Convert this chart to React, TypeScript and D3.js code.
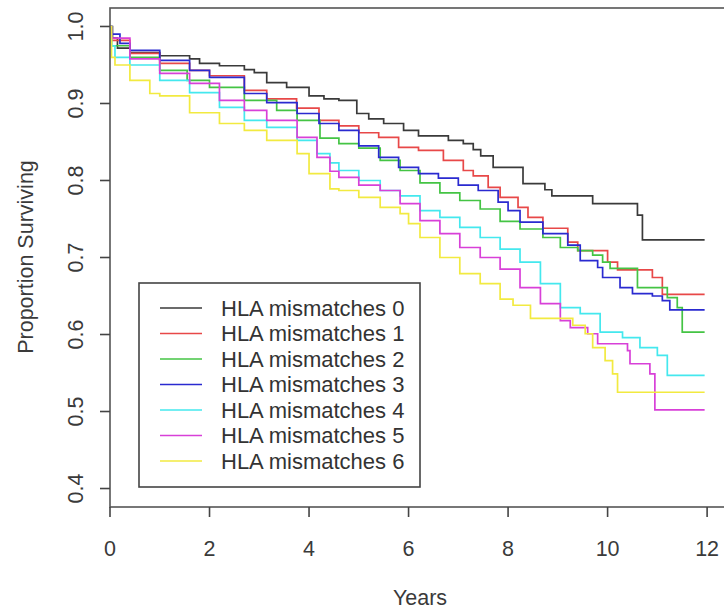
import React from 'react';
import * as d3 from 'd3';

// Kaplan-Meier curves: [years, proportion surviving]
const mismatch0 = [[0,1],[0.05,0.985],[0.15,0.972],[0.4,0.966],[1.0,0.962],[1.6,0.958],[1.8,0.952],[2.2,0.949],[2.7,0.944],[2.9,0.94],[3.15,0.927],[3.55,0.921],[4.0,0.91],[4.3,0.906],[4.6,0.904],[4.96,0.887],[5.2,0.88],[5.5,0.874],[5.9,0.865],[6.2,0.858],[6.8,0.852],[7.1,0.848],[7.3,0.84],[7.45,0.832],[7.7,0.817],[8.3,0.796],[8.74,0.788],[8.88,0.78],[9.7,0.77],[10.6,0.755],[10.7,0.723],[11.95,0.723]];
const mismatch1 = [[0,1],[0.03,0.982],[0.4,0.965],[1.0,0.952],[1.6,0.943],[2.0,0.936],[2.7,0.917],[3.15,0.906],[3.75,0.894],[4.2,0.878],[4.6,0.871],[5.0,0.862],[5.4,0.856],[5.8,0.843],[6.2,0.839],[6.7,0.826],[7.1,0.813],[7.3,0.806],[7.6,0.791],[7.84,0.778],[8.2,0.765],[8.4,0.752],[8.7,0.738],[9.2,0.72],[9.4,0.709],[10.0,0.694],[10.2,0.684],[10.9,0.674],[11.1,0.652],[11.95,0.652]];
const mismatch2 = [[0,1],[0.03,0.975],[0.4,0.96],[1.0,0.943],[1.55,0.93],[2.0,0.921],[2.7,0.904],[3.35,0.891],[3.76,0.878],[4.22,0.855],[4.6,0.848],[5.0,0.842],[5.43,0.826],[5.83,0.813],[6.23,0.797],[6.63,0.784],[7.03,0.774],[7.44,0.763],[7.84,0.747],[8.24,0.737],[8.7,0.726],[9.05,0.713],[9.4,0.709],[9.7,0.703],[9.9,0.694],[10.05,0.686],[10.6,0.661],[11.2,0.648],[11.4,0.635],[11.5,0.603],[11.95,0.603]];
const mismatch3 = [[0,1],[0.03,0.99],[0.2,0.978],[0.4,0.969],[1.0,0.956],[1.6,0.943],[2.0,0.934],[2.7,0.913],[3.15,0.901],[3.76,0.887],[4.2,0.874],[4.6,0.865],[5.0,0.845],[5.4,0.83],[5.8,0.817],[6.2,0.809],[6.6,0.803],[7.0,0.794],[7.4,0.787],[7.8,0.772],[8.0,0.761],[8.24,0.746],[8.7,0.731],[9.2,0.716],[9.45,0.696],[9.8,0.687],[9.9,0.674],[10.25,0.661],[10.5,0.653],[10.9,0.65],[11.1,0.644],[11.25,0.632],[11.95,0.632]];
const mismatch4 = [[0,1],[0.03,0.975],[0.1,0.96],[0.4,0.95],[1.0,0.93],[1.6,0.914],[2.2,0.895],[2.7,0.878],[3.15,0.869],[3.76,0.852],[4.16,0.835],[4.42,0.823],[4.6,0.813],[5.0,0.8],[5.43,0.787],[5.83,0.78],[6.23,0.761],[6.63,0.752],[7.03,0.739],[7.44,0.726],[7.84,0.711],[8.24,0.694],[8.65,0.666],[9.05,0.635],[9.45,0.627],[9.85,0.603],[10.3,0.596],[10.65,0.583],[11.0,0.573],[11.2,0.547],[11.95,0.547]];
const mismatch5 = [[0,1],[0.03,0.985],[0.4,0.958],[1.0,0.939],[1.6,0.926],[2.2,0.904],[2.7,0.891],[3.15,0.878],[3.76,0.856],[4.16,0.83],[4.42,0.812],[4.6,0.804],[5.0,0.794],[5.43,0.787],[5.83,0.77],[6.23,0.748],[6.63,0.731],[7.03,0.713],[7.44,0.7],[7.84,0.685],[8.24,0.661],[8.65,0.64],[9.05,0.618],[9.25,0.609],[9.6,0.601],[9.8,0.588],[10.4,0.579],[10.45,0.562],[10.85,0.549],[10.95,0.502],[11.95,0.502]];
const mismatch6 = [[0,1],[0.03,0.96],[0.1,0.95],[0.4,0.93],[0.8,0.913],[1.0,0.91],[1.6,0.888],[2.2,0.874],[2.7,0.865],[3.15,0.852],[3.76,0.835],[4.0,0.809],[4.42,0.789],[4.6,0.787],[5.0,0.778],[5.43,0.765],[5.83,0.757],[6.0,0.744],[6.23,0.726],[6.63,0.7],[7.03,0.679],[7.44,0.666],[7.84,0.646],[8.1,0.638],[8.45,0.621],[9.3,0.612],[9.55,0.601],[9.7,0.583],[9.95,0.566],[10.1,0.549],[10.2,0.525],[11.95,0.525]];

const groups = ['HLA mismatches 0', 'HLA mismatches 1', 'HLA mismatches 2', 'HLA mismatches 3', 'HLA mismatches 4', 'HLA mismatches 5', 'HLA mismatches 6'];
const curves = [mismatch0, mismatch1, mismatch2, mismatch3, mismatch4, mismatch5, mismatch6];
const colors = ['#3a3a3a', '#e84848', '#44c444', '#2a2ad0', '#44e8ee', '#d840d8', '#f2ea40'];
const xTicks = [0, 2, 4, 6, 8, 10, 12];
const yTicks = [0.4, 0.5, 0.6, 0.7, 0.8, 0.9, 1.0];

const font = '"Liberation Sans", Arial, sans-serif';

const App = () => {
  const left = 110, top = 8, bottom = 507;

  // R style: y padded 4%, x starts at 0 and extends 4% on the right
  const x = d3.scaleLinear().domain([0, 12.48]).range([left, 731]);
  const y = d3.scaleLinear().domain([0.376, 1.024]).range([bottom, top]);

  const line = d3.line<number[]>()
    .x(d => x(d[0]))
    .y(d => y(d[1]))
    .curve(d3.curveStepAfter);

  const legendX = 139, legendY = 283;

  return (
    <svg width={724} height={610} style={{ position: 'absolute', left: 0, top: 0, background: '#fff' }} fontFamily={font}>
      {/* curves */}
      <g fill="none" strokeWidth={1.7}>
        {curves.map((c, i) => (
          <path key={i} d={line(c) || ''} stroke={colors[i]} />
        ))}
      </g>

      {/* frame */}
      <rect x={left} y={top} width={724} height={bottom - top} fill="none" stroke="#555" strokeWidth={1.6} />

      {/* y axis */}
      <g fill="#3a3a3a" fontSize={21.5}>
        {yTicks.map(t => (
          <g key={t}>
            <line x1={left - 10} x2={left} y1={y(t)} y2={y(t)} stroke="#444" strokeWidth={1.6} />
            <text transform={`translate(75,${y(t)}) rotate(-90)`} textAnchor="middle" dy="0.35em">{t.toFixed(1)}</text>
          </g>
        ))}
        <text transform={`translate(25,257) rotate(-90)`} textAnchor="middle" dy="0.35em">Proportion Surviving</text>
      </g>

      {/* x axis */}
      <g fill="#3a3a3a" fontSize={21.5}>
        {xTicks.map(t => (
          <g key={t}>
            <line x1={x(t)} x2={x(t)} y1={bottom} y2={bottom + 10} stroke="#444" strokeWidth={1.6} />
            <text x={x(t)} y={556} textAnchor="middle">{t}</text>
          </g>
        ))}
        <text x={420} y={605} textAnchor="middle">Years</text>
      </g>

      {/* legend */}
      <rect x={legendX} y={legendY} width={281} height={204} fill="#fff" stroke="#444" strokeWidth={1.6} />
      {groups.map((g, i) => (
        <g key={g} transform={`translate(0,${308 + i * 25.5})`}>
          <line x1={160} x2={202} stroke={colors[i]} strokeWidth={1.7} />
          <text x={221} dy="0.35em" fontSize={22} fill="#333">{g}</text>
        </g>
      ))}
    </svg>
  );
};

export default App;
